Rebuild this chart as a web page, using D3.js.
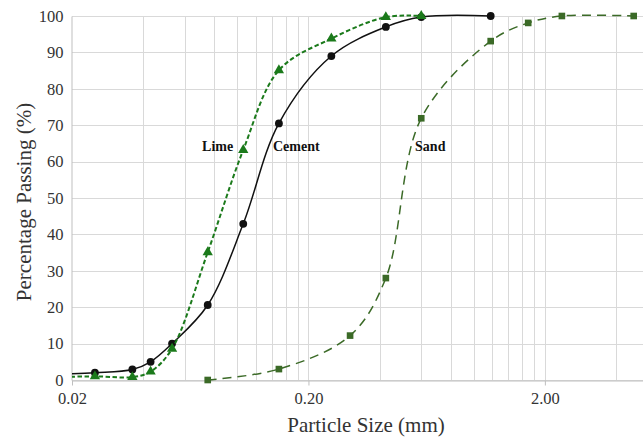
<!DOCTYPE html>
<html>
<head>
<meta charset="utf-8">
<script src="https://cdn.jsdelivr.net/npm/d3@7"></script>
<style>
  body { margin: 0; background: #fff; }
  svg { display: block; font-family: "Liberation Serif", "DejaVu Serif", serif; }
</style>
</head>
<body>
<div id="chart"></div>
<script>
// particle sizes (mm)
const fineSizes = [0.015, 0.025, 0.036, 0.043, 0.053, 0.075, 0.106, 0.15, 0.25, 0.425, 0.6, 1.18];
const cementPassing = [1.5, 2.0, 2.9, 5.0, 10.0, 20.6, 42.9, 70.5, 89.0, 97.0, 99.7, 100];
const limePassing = [0.7, 1.0, 0.8, 2.3, 8.6, 35.1, 63.2, 85.1, 93.8, 99.7, 100];
const sandSizes = [0.075, 0.15, 0.3, 0.425, 0.6, 1.18, 1.7, 2.36, 4.75];
const sandPassing = [0, 3.0, 12.2, 28.0, 71.9, 93.1, 98.1, 100, 100];

const xMajor = [0.02, 0.2, 2];
const xTickLabels = ["0.02", "0.20", "2.00"];
const yTicks = [0, 10, 20, 30, 40, 50, 60, 70, 80, 90, 100];

const width = 643, height = 440;
const margin = { top: 16, right: 0, bottom: 60, left: 72 };

const svg = d3.select("#chart").append("svg")
  .attr("width", width)
  .attr("height", height);

const x = d3.scaleLog()
  .domain([0.02, 5.2])
  .range([margin.left, width - margin.right]);

const y = d3.scaleLinear()
  .domain([0, 100])
  .range([height - margin.bottom, margin.top]);

// minor grid: 2..9 times each major step (excel style)
const xMinor = [];
xMajor.forEach((m) => {
  for (let k = 2; k <= 10; k++) {
    const v = m * k;
    if (v <= 5.2) xMinor.push(v);
  }
});

const grid = svg.append("g").attr("stroke", "#d9d9d9").attr("stroke-width", 1);

grid.selectAll("line.v")
  .data(xMinor)
  .join("line")
  .attr("class", "v")
  .attr("x1", (d) => Math.round(x(d)) + 0.5)
  .attr("x2", (d) => Math.round(x(d)) + 0.5)
  .attr("y1", y(0))
  .attr("y2", y(100));

grid.selectAll("line.h")
  .data(yTicks)
  .join("line")
  .attr("class", "h")
  .attr("x1", margin.left)
  .attr("x2", width - margin.right)
  .attr("y1", (d) => Math.round(y(d)) + 0.5)
  .attr("y2", (d) => Math.round(y(d)) + 0.5);

// axes
const xAxis = svg.append("g")
  .attr("transform", `translate(0,${Math.round(y(0)) + 0.5})`)
  .call(d3.axisBottom(x).tickValues(xMajor).tickFormat((d, i) => xTickLabels[i]).tickSize(5).tickSizeOuter(0));
xAxis.select(".domain").attr("stroke", "#bfbfbf");
xAxis.selectAll(".tick line").attr("stroke", "#bfbfbf");
xAxis.selectAll(".tick text")
  .attr("fill", "#333")
  .attr("dy", "0.95em")
  .style("font-size", "16.5px")
  .style("font-family", "Liberation Serif, serif");

const yAxis = svg.append("g")
  .attr("transform", `translate(${margin.left - 0.5},0)`)
  .call(d3.axisLeft(y).tickValues(yTicks).tickSize(0).tickPadding(8).tickSizeOuter(0));
yAxis.select(".domain").attr("stroke", "#bfbfbf");
yAxis.selectAll(".tick text")
  .attr("fill", "#333")
  .style("font-size", "16.5px")
  .style("font-family", "Liberation Serif, serif");

// axis titles
svg.append("text")
  .attr("x", 366)
  .attr("y", 432)
  .attr("text-anchor", "middle")
  .attr("fill", "#333")
  .style("font-size", "21px")
  .text("Particle Size (mm)");

svg.append("text")
  .attr("transform", `translate(31,${(y(0) + y(100)) / 2 + 4}) rotate(-90)`)
  .attr("text-anchor", "middle")
  .attr("fill", "#333")
  .style("font-size", "21px")
  .text("Percentage Passing (%)");

// series
svg.append("clipPath").attr("id", "plotClip")
  .append("rect")
  .attr("x", margin.left)
  .attr("y", 0)
  .attr("width", width - margin.left)
  .attr("height", y(0) + 10);

const plot = svg.append("g").attr("clip-path", "url(#plotClip)");

const toPoints = (xs, ys) => ys.map((v, i) => ({ size: xs[i], pass: v }));
const line = d3.line()
  .x((d) => x(d.size))
  .y((d) => y(d.pass))
  .curve(d3.curveCatmullRom.alpha(0.5));

const series = [
  { name: "Sand", pts: toPoints(sandSizes, sandPassing), color: "#3b6a27", dash: "9,6", width: 1.5, marker: "square" },
  { name: "Cement", pts: toPoints(fineSizes, cementPassing), color: "#111", dash: null, width: 1.5, marker: "circle" },
  { name: "Lime", pts: toPoints(fineSizes, limePassing), color: "#1b7a1b", dash: "4.5,2.5", width: 2, marker: "triangle" }
];

series.forEach((s) => {
  plot.append("path")
    .datum(s.pts)
    .attr("fill", "none")
    .attr("stroke", s.color)
    .attr("stroke-width", s.width)
    .attr("stroke-dasharray", s.dash)
    .attr("d", line);

  const sym = s.marker === "circle" ? d3.symbolCircle
    : s.marker === "square" ? d3.symbolSquare : d3.symbolTriangle;
  const size = s.marker === "circle" ? 48 : s.marker === "square" ? 44 : 46;

  plot.append("g")
    .selectAll("path")
    .data(s.pts)
    .join("path")
    .attr("transform", (d) => `translate(${x(d.size)},${y(d.pass)})`)
    .attr("d", d3.symbol(sym, size))
    .attr("fill", s.color);
});

// series labels
const labels = [
  { text: "Lime", size: 0.071, pass: 62.9 },
  { text: "Cement", size: 0.1416, pass: 62.9 },
  { text: "Sand", size: 0.565, pass: 62.9 }
];

svg.append("g")
  .selectAll("text")
  .data(labels)
  .join("text")
  .attr("x", (d) => x(d.size))
  .attr("y", (d) => y(d.pass))
  .attr("fill", "#111")
  .style("font-size", "14px")
  .style("font-weight", "bold")
  .text((d) => d.text);
</script>
</body>
</html>
